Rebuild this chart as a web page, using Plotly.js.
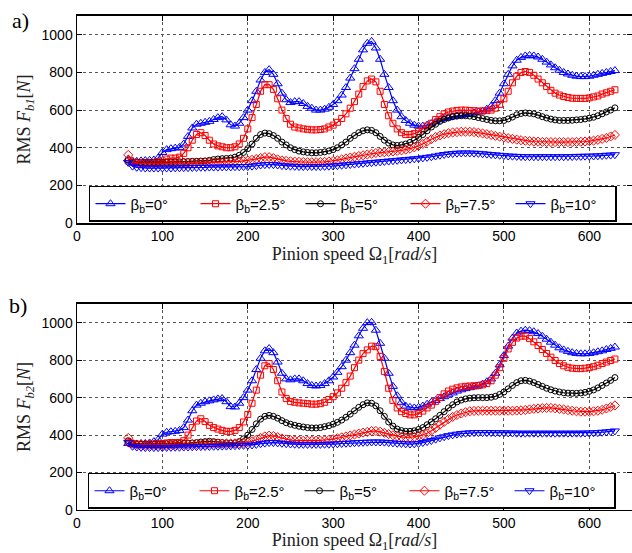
<!DOCTYPE html>
<html><head><meta charset="utf-8">
<script src="https://cdn.plot.ly/plotly-3.0.1.min.js"></script>
<style>html,body{margin:0;padding:0;background:#fff}#chart{width:632px;height:553px}</style>
</head><body><div id="chart"></div>
<script>
const speed = [60,65,70,75,80,85,90,95,100,105,110,115,120,125,130,135,140,145,150,155,160,165,170,175,180,185,190,195,200,205,210,215,220,225,230,235,240,245,250,255,260,265,270,275,280,285,290,295,300,305,310,315,320,325,330,335,340,345,350,355,360,365,370,375,380,385,390,395,400,405,410,415,420,425,430,435,440,445,450,455,460,465,470,475,480,485,490,495,500,505,510,515,520,525,530,535,540,545,550,555,560,565,570,575,580,585,590,595,600,605,610,615,620,625,630];

const seriesNames = ['β<sub>b</sub>=0°','β<sub>b</sub>=2.5°','β<sub>b</sub>=5°','β<sub>b</sub>=7.5°','β<sub>b</sub>=10°'];

// Panel a) RMS F_b1
const a_beta0 = [340,330,328,330,332,333,335,345,375,390, 395,398,402,420,460,505,525,530,535,540, 550,560,565,548,522,515,530,560,600,650, 700,760,800,815,790,740,690,655,640,645, 645,635,620,610,600,600,605,615,630,650, 680,720,770,820,870,920,955,965,930,870, 790,720,650,600,565,545,530,520,515,515, 520,528,538,548,555,560,565,570,572,576, 580,585,590,595,605,620,650,690,740,790, 835,865,880,888,890,888,882,870,855,840, 825,812,800,792,785,780,778,778,780,785, 790,795,800,805,810];
const a_beta25 = [330,322,320,320,320,320,322,325,330,340, 345,345,350,370,400,440,470,480,465,440, 420,410,405,400,400,405,420,450,500,560, 630,700,735,735,710,660,600,555,525,510, 505,500,498,495,495,497,500,510,520,535, 555,580,610,645,685,725,755,765,750,700, 630,570,530,500,480,470,470,475,485,500, 515,530,550,565,580,590,595,598,600,600, 598,597,595,595,597,600,610,630,660,700, 745,780,800,805,800,785,765,745,725,705, 690,680,672,667,663,662,662,662,665,670, 675,685,692,700,708];
const a_beta5 = [335,325,323,322,322,322,322,322,322,323, 323,324,325,326,327,328,328,329,330,333, 337,340,342,343,345,350,360,375,395,420, 450,470,478,475,465,450,430,415,400,390, 382,378,375,373,373,375,378,383,390,400, 415,430,450,465,480,490,495,492,480,460, 440,425,415,412,415,420,428,440,455,470, 490,510,525,540,550,558,565,568,570,570, 568,565,560,555,550,545,543,543,545,553, 563,575,582,585,583,580,573,565,558,552, 548,545,545,545,546,548,550,553,557,562, 570,580,590,600,612];
const a_beta75 = [362,325,318,316,315,315,315,315,315,316, 316,317,318,318,319,320,320,321,322,322, 322,323,324,325,325,326,328,330,332,336, 340,345,350,350,345,338,333,330,328,326, 325,324,323,323,323,324,325,327,330,333, 338,343,348,352,356,360,364,368,372,374, 376,378,380,383,386,390,395,402,410,420, 432,445,457,465,472,477,481,483,485,485, 485,483,480,476,472,468,463,459,455,451, 447,443,440,437,435,433,432,431,430,430, 430,430,430,430,430,431,432,433,435,438, 442,447,452,460,468];
const a_beta10 = [322,302,296,294,292,292,292,292,292,292, 292,293,293,294,294,295,295,296,296,297, 297,297,298,298,298,299,299,300,300,302, 305,308,310,311,310,308,305,303,302,301, 300,300,300,300,300,300,301,302,303,305, 307,309,311,313,315,317,319,321,323,325, 327,329,331,333,335,337,339,341,343,346, 349,352,356,360,364,367,369,371,372,372, 372,371,370,368,366,364,362,360,358,356, 355,354,353,352,352,352,352,352,352,352, 352,352,352,353,353,354,354,355,355,356, 357,358,360,361,363];

// Panel b) RMS F_b2
const b_beta0 = [355,350,352,355,355,358,365,375,405,415, 418,420,425,440,480,530,560,570,578,583, 588,593,595,578,552,550,570,600,640,690, 750,810,850,862,840,790,730,700,695,700, 700,690,675,665,662,665,675,690,710,735, 765,800,840,880,930,970,1000,1002,960,890, 810,730,660,610,575,555,548,545,548,555, 565,575,585,595,605,615,625,635,642,648, 653,658,663,672,685,700,730,775,825,875, 918,945,955,960,958,952,942,928,912,896, 880,866,855,847,840,836,834,834,836,840, 845,850,857,863,870];
const b_beta25 = [362,352,350,350,350,350,352,352,355,358, 360,360,360,370,400,440,475,487,472,452, 440,432,425,420,420,425,440,470,510,570, 640,720,770,782,750,690,630,595,580,575, 572,570,568,565,565,568,575,590,605,625, 650,680,715,760,800,835,855,875,872,820, 740,650,585,545,525,515,508,508,515,528, 545,560,580,600,620,635,645,652,657,660, 662,663,665,668,675,690,720,760,810,860, 895,918,928,928,915,898,878,857,836,816, 798,782,770,762,757,755,755,757,760,765, 773,782,790,798,806];
const b_beta5 = [370,356,354,352,352,352,352,352,352,353, 353,354,355,356,357,358,360,363,365,367, 365,362,360,358,357,358,365,380,400,430, 460,485,500,505,500,490,477,466,458,452, 447,443,440,438,438,440,445,450,458,468, 480,495,512,530,548,562,572,570,556,530, 500,470,448,432,424,420,420,423,430,440, 455,470,487,505,525,545,562,577,587,593, 597,599,600,600,600,602,607,617,630,647, 665,680,690,692,688,680,670,660,650,642, 635,630,626,624,623,623,625,628,634,641, 652,665,678,692,707];
const b_beta75 = [385,355,350,348,348,348,348,348,348,348, 349,349,350,350,351,351,352,352,353,354, 355,355,355,355,355,356,357,359,362,367, 375,385,393,397,395,389,382,377,373,371, 370,370,370,370,370,371,372,374,378,383, 388,393,398,403,408,413,417,421,422,418, 412,405,399,394,390,388,388,390,394,400, 410,423,438,455,470,485,497,507,515,522, 527,529,530,530,530,530,530,530,530,530, 530,531,532,534,537,540,542,544,545,545, 543,540,537,533,530,527,525,525,525,527, 530,535,542,550,558];
const b_beta10 = [360,340,336,334,333,333,333,333,333,334, 334,335,335,336,336,337,338,338,339,339, 340,340,341,341,342,343,344,345,345,347, 350,354,357,360,360,358,356,354,352,351, 350,350,350,350,350,350,351,351,352,353, 355,356,357,359,360,361,362,363,363,363, 362,360,358,356,355,353,352,353,355,360, 365,371,378,385,391,397,401,405,408,410, 412,413,413,413,413,413,412,412,412,411, 411,410,410,410,410,410,410,410,410,410, 410,410,410,410,410,410,410,411,411,412, 413,415,417,419,422];

const xTicks = [0,100,200,300,400,500,600];
const yTicks = [0,200,400,600,800,1000];

const colors = ['#0000ff','#ff0000','#000000','#ff0000','#0000ff'];
const symbols = ['triangle-up-open','square-open','circle-open','diamond-open','triangle-down-open'];
const sizes = [8,6,6,7,8];

const panelA = [a_beta0,a_beta25,a_beta5,a_beta75,a_beta10];
const panelB = [b_beta0,b_beta25,b_beta5,b_beta75,b_beta10];

const traces = [];
panelA.forEach((ys,i)=>traces.push({x:speed,y:ys,xaxis:'x',yaxis:'y',type:'scatter',mode:'lines+markers',
  name:seriesNames[i],legend:'legend',line:{color:colors[i],width:1.2},
  marker:{symbol:symbols[i],size:sizes[i],color:colors[i],line:{width:1,color:colors[i]}}}));
panelB.forEach((ys,i)=>traces.push({x:speed,y:ys,xaxis:'x2',yaxis:'y2',type:'scatter',mode:'lines+markers',
  name:seriesNames[i],legend:'legend2',line:{color:colors[i],width:1.2},
  marker:{symbol:symbols[i],size:sizes[i],color:colors[i],line:{width:1,color:colors[i]}}}));

const tickFont = {family:'Liberation Sans, Arial, sans-serif',size:14,color:'#000'};
const titleFont = {family:'Liberation Serif, Times New Roman, serif',size:18,color:'#222'};

function xax(anchor){return {anchor:anchor,domain:[0,1],range:[0,650],tickvals:xTicks,ticktext:xTicks.map(String),
  ticks:'inside',ticklen:5,tickcolor:'#000',mirror:'ticks',showline:true,linecolor:'#000',linewidth:1.5,
  showgrid:true,griddash:'dot',gridcolor:'#555',gridwidth:1,zeroline:false,tickfont:tickFont,automargin:false,
  title:{text:'Pinion speed Ω<sub>1</sub>[<i>rad/s</i>]',font:titleFont,standoff:4}};}
function yax(anchor,dom,lab){return {anchor:anchor,domain:dom,range:[0,1100],tickvals:yTicks,ticktext:yTicks.map(String),
  ticks:'inside',ticklen:5,tickcolor:'#000',mirror:'ticks',showline:true,linecolor:'#000',linewidth:1.5,
  showgrid:true,griddash:'dot',gridcolor:'#555',gridwidth:1,zeroline:false,tickfont:tickFont,automargin:false,
  title:{text:lab,font:titleFont,standoff:6}};}

const legendStyle = (x,y)=>({orientation:'h',x:x,y:y,xanchor:'left',yanchor:'bottom',bgcolor:'#fff',
  bordercolor:'#000',borderwidth:1.5,font:{family:'Liberation Sans, Arial, sans-serif',size:15,color:'#000'},
  entrywidth:60,entrywidthmode:'pixels',itemwidth:30});

const layout = {
  width:632,height:553,margin:{l:77,r:0,t:0,b:0},paper_bgcolor:'#fff',plot_bgcolor:'#fff',showlegend:true,
  xaxis:xax('y'),yaxis:yax('x',[0.5967,0.9711],'RMS <i>F</i><sub><i>b1</i></sub>[<i>N</i>]'),
  xaxis2:xax('y2'),yaxis2:yax('x2',[0.0778,0.4503],'RMS <i>F</i><sub><i>b2</i></sub>[<i>N</i>]'),
  legend:legendStyle(0.0216,0.5986),
  legend2:legendStyle(0.0198,0.0796),
  annotations:[
    {text:'a)',xref:'paper',yref:'paper',x:-0.101,y:0.9638,xanchor:'center',yanchor:'middle',showarrow:false,font:{family:'Liberation Serif, serif',size:22,color:'#000'}},
    {text:'b)',xref:'paper',yref:'paper',x:-0.106,y:0.4467,xanchor:'center',yanchor:'middle',showarrow:false,font:{family:'Liberation Serif, serif',size:22,color:'#000'}}
  ]
};
Plotly.newPlot('chart',traces,layout,{displayModeBar:false,staticPlot:true});
</script></body></html>
